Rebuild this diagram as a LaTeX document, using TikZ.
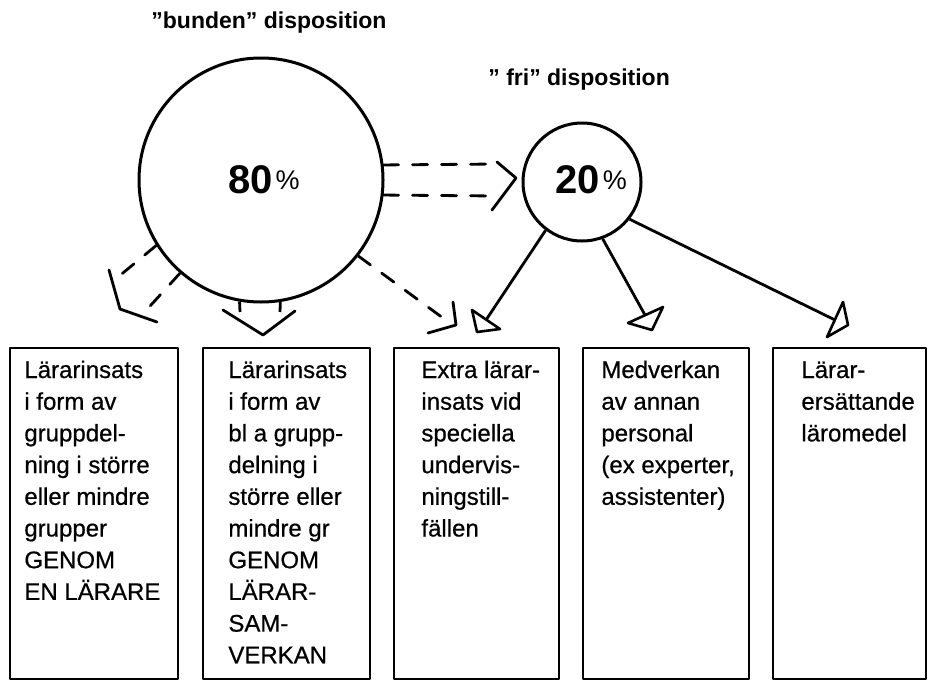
\documentclass[tikz,border=0pt]{standalone}
\usepackage{fontspec}
\setmainfont{Liberation Sans}
\newfontfamily\medfont[FakeBold=0.6]{Liberation Sans}
\newfontfamily\lightfont{Liberation Sans}
\begin{document}
\begin{tikzpicture}[x=1pt,y=-1pt,line width=2.8pt,line join=round,
  boxstyle/.style={draw,line width=2.3pt,rectangle,inner sep=0pt,anchor=north west,minimum height=331pt},
  txt/.style={anchor=base west,inner sep=0pt,font=\medfont\fontsize{24}{31.7}\selectfont},
  ttl/.style={anchor=base west,inner sep=0pt,font=\fontsize{23}{28}\selectfont\bfseries},
  pct/.style={anchor=base,inner sep=0pt},
  dsh/.style={dash pattern=on 15pt off 14pt,line cap=round},
  circ/.style={circle,draw,line width=3pt,inner sep=0pt},
  tri/.style={draw,fill=white,line width=2.6pt}]
\useasboundingbox (0,0) rectangle (928,680);
% titles
\node[ttl] (tb) at (150,28) {”bunden” disposition};
\node[ttl] (tf) at (487,85) {” fri” disposition};
% circles
\node[circ,minimum size=244pt] (big) at (261,180) {};
\node[circ,minimum size=118pt] (small) at (582,182) {};
\node[pct] (p80) at (264,193) {\fontsize{40}{40}\selectfont\bfseries 80\hspace{3pt}\raisebox{4pt}{\lightfont\mdseries\fontsize{27}{27}\selectfont\%}};
\node[pct] (p20) at (591,193) {\fontsize{40}{40}\selectfont\bfseries 20\hspace{3pt}\raisebox{4pt}{\lightfont\mdseries\fontsize{27}{27}\selectfont\%}};
% boxes
\node[boxstyle,minimum width=168pt] (b1) at (9,347) {};
\node[boxstyle,minimum width=167pt] (b2) at (202,347) {};
\node[boxstyle,minimum width=165pt] (b3) at (393,347) {};
\node[boxstyle,minimum width=166pt] (b4) at (582,347) {};
\node[boxstyle,minimum width=153pt] (b5) at (772,347) {};
\node[txt] (t1) at (23,378) {\begin{tabular}[t]{@{}l@{}}Lärarinsats\\i form av\\gruppdel-\\ning i större\\eller mindre\\grupper\\GENOM\\EN LÄRARE\end{tabular}};
\node[txt] (t2) at (227,378) {\begin{tabular}[t]{@{}l@{}}Lärarinsats\\i form av\\bl a grupp-\\delning i\\större eller\\mindre gr\\GENOM\\LÄRAR-\\SAM-\\VERKAN\end{tabular}};
\node[txt] (t3) at (420,378) {\begin{tabular}[t]{@{}l@{}}Extra lärar-\\insats vid\\speciella\\undervis-\\ningstill-\\fällen\end{tabular}};
\node[txt] (t4) at (600,378) {\begin{tabular}[t]{@{}l@{}}Medverkan\\av annan\\personal\\(ex experter,\\assistenter)\end{tabular}};
\node[txt] (t5) at (800,378) {\begin{tabular}[t]{@{}l@{}}Lärar-\\ersättande\\läromedel\end{tabular}};
% dashed arrow between circles
\coordinate (h1e) at (496,164);
\coordinate (h2e) at (496,196);
\coordinate (hA) at (497,162);
\coordinate (hT) at (516,178);
\coordinate (hB) at (492,210);
\draw[dsh] (big.7.5) -- (h1e);
\draw[dsh] (big.-7.5) -- (h2e);
\draw[line cap=round] (hA) -- (hT) -- (hB);
% lower-left dashed arrow
\coordinate (l1e) at (112,282);
\coordinate (l2e) at (141,316);
\draw[dsh] (big.212.3) -- (l1e);
\draw[dsh] (big.229.6) -- (l2e);
\coordinate (lA) at (109,270);
\coordinate (lT) at (120,309);
\coordinate (lB) at (157,322);
\draw[line cap=round] (lA) -- (lT) -- (lB);
% downward dashed arrow
\coordinate (d1e) at (240,312);
\coordinate (d2e) at (280,312);
\draw (big.260.1) -- (d1e);
\draw (big.279) -- (d2e);
\coordinate (dA) at (223,310);
\coordinate (dT) at (263,335);
\coordinate (dB) at (295,311);
\draw[line cap=round] (dA) -- (dT) -- (dB);
% right-down dashed arrow
\coordinate (r1e) at (443,318);
\draw[dsh] (big.-38.8) -- (r1e);
\coordinate (rA) at (453,302);
\coordinate (rT) at (456,325);
\coordinate (rB) at (428,333);
\draw[line cap=round] (rA) -- (rT) -- (rB);
% solid arrows from small circle
\coordinate (s1e) at (486,320);
\coordinate (s2e) at (645,315);
\coordinate (s3e) at (835,320);
\draw (small.-127.3) -- (s1e);
\draw (small.-70) -- (s2e);
\draw (small.-38.7) -- (s3e);
\draw[tri] (472,310) -- (477,332) -- (500,329) -- cycle;
\draw[tri] (663,307) -- (652,330) -- (628,323) -- cycle;
\draw[tri] (843,302) -- (848,325) -- (827,337) -- cycle;
\end{tikzpicture}
\end{document}
